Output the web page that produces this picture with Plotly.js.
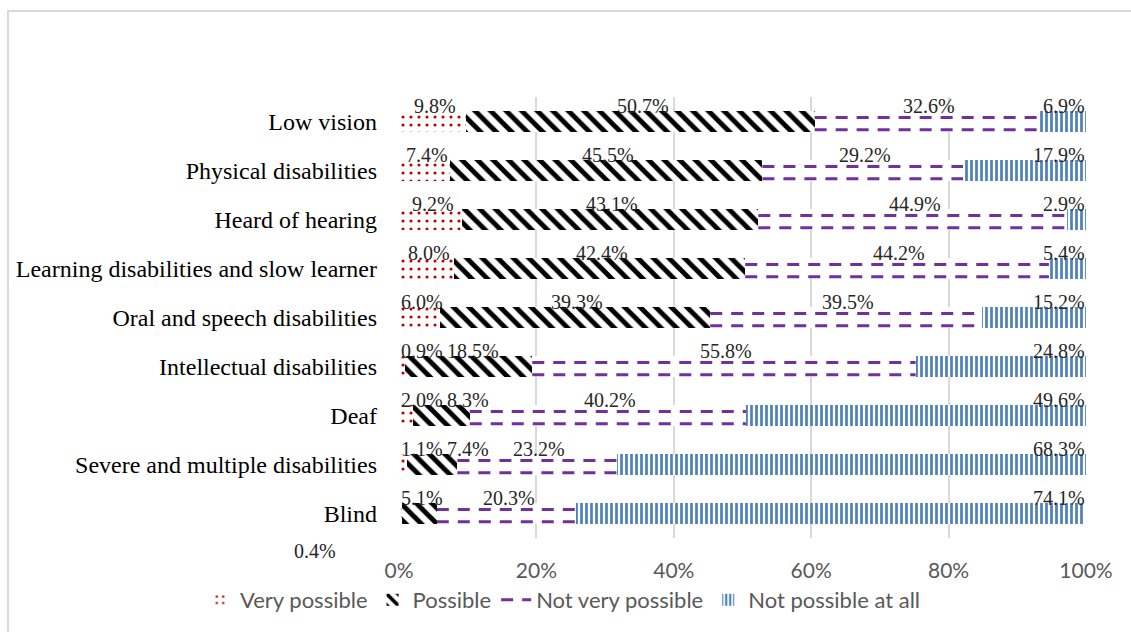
<!DOCTYPE html>
<html>
<head>
<meta charset="utf-8">
<script src="https://cdn.plot.ly/plotly-3.0.1.min.js"></script>
<style>
  html, body { margin: 0; padding: 0; background: #fff; }
  #wrap { position: relative; width: 1131px; height: 632px; overflow: hidden; }
  #chart { width: 1131px; height: 632px; position: relative; }
  #frame { position: absolute; left: 7px; top: 10px; width: 1300px; height: 800px;
           border-left: 2px solid #d9d9d9; border-top: 2px solid #d9d9d9; pointer-events: none; }
</style>
</head>
<body>
<div id="wrap">
  <div id="chart"></div>
  <div id="frame"></div>
</div>
<script>
// Categories from bottom to top
const categories = [
  "Blind",
  "Severe and multiple disabilities",
  "Deaf",
  "Intellectual disabilities",
  "Oral and speech disabilities",
  "Learning disabilities and slow learner",
  "Heard of hearing",
  "Physical disabilities",
  "Low vision"
];
const seriesNames = ["Very possible", "Possible", "Not very possible", "Not possible at all"];
const veryPossible    = [0.4, 1.1, 2.0, 0.9, 6.0, 8.0, 9.2, 7.4, 9.8];
const possible        = [5.1, 7.4, 8.3, 18.5, 39.3, 42.4, 43.1, 45.5, 50.7];
const notVeryPossible = [20.3, 23.2, 40.2, 55.8, 39.5, 44.2, 44.9, 29.2, 32.6];
const notPossible     = [74.1, 68.3, 49.6, 24.8, 15.2, 5.4, 2.9, 17.9, 6.9];
const xTickVals = [0, 20, 40, 60, 80, 100];
const xTickText = ["0%", "20%", "40%", "60%", "80%", "100%"];

const seriesValues = [veryPossible, possible, notVeryPossible, notPossible];

const W = 1131, H = 632;
const M = {l: 399, r: 45, t: 97, b: 94, autoexpand: false};
const plotW = W - M.l - M.r;
const plotH = H - M.t - M.b;
const pxPerUnit = plotW / 100;
const LABEL_SIZE = 20;
const PURPLE = "#7030a0";

const patterns = [
  {shape: ".",  fgcolor: "#c00000", bgcolor: "#ffffff", size: 8,  solidity: 0.12},
  {shape: "\\", fgcolor: "#000000", bgcolor: "#ffffff", size: 11, solidity: 0.45},
  {shape: "",   fgcolor: PURPLE,    bgcolor: "#ffffff", size: 11, solidity: 0.25},
  {shape: "|",  fgcolor: "#4f81bd", bgcolor: "#ffffff", size: 5,  solidity: 0.55}
];

const traces = seriesValues.map((vals, i) => ({
  type: "bar",
  orientation: "h",
  name: seriesNames[i],
  y: categories,
  x: vals,
  width: 0.41,
  showlegend: i !== 2,
  legendrank: i + 1,
  marker: {color: "#ffffff", pattern: patterns[i], line: {width: 0}},
  hoverinfo: "name+x"
}));

// dashed fill for "Not very possible": two dashed rows inside each segment
const dashX = [], dashY = [];
categories.forEach((cat, ci) => {
  const start = veryPossible[ci] + possible[ci];
  const end = start + notVeryPossible[ci];
  [0.08, -0.17].forEach(off => {
    dashX.push(start, end, null);
    dashY.push(ci + off, ci + off, null);
  });
});
traces.push({
  type: "scatter", mode: "lines",
  name: seriesNames[2],
  x: dashX, y: dashY, yaxis: "y2",
  connectgaps: false,
  legendrank: 3,
  line: {color: PURPLE, width: 3, dash: "12px,9px"},
  hoverinfo: "skip"
});

// Label width estimate for Liberation Serif (Times metrics)
function textWidth(s) {
  let w = 0;
  for (const ch of s) w += (ch === "." ? 0.25 : ch === "%" ? 0.833 : 0.5);
  return w * LABEL_SIZE;
}

// Data labels above each segment, kept from overlapping
const annotations = [];
const labelFont = {family: "Liberation Serif, Times New Roman, serif", size: LABEL_SIZE, color: "#262626"};
categories.forEach((cat, ci) => {
  let cum = 0;
  let prevRight = -Infinity;
  seriesValues.forEach((vals, si) => {
    const v = vals[ci];
    const mid = cum + v / 2;
    cum += v;
    const text = v.toFixed(1) + "%";
    const w = textWidth(text);
    if (ci === 0 && si === 0) {
      // tiny label of the "Blind / Very possible" segment sits below-left of the plot
      annotations.push({x: mid, y: cat, xref: "x", yref: "y", text: text, showarrow: false,
        xanchor: "center", yanchor: "bottom", xshift: -85, yshift: -50, font: labelFont});
      return;
    }
    let left;
    if (si === seriesValues.length - 1) {
      left = plotW - 3 - w;                  // last series: right-aligned at 100%
    } else {
      left = mid * pxPerUnit - w / 2;
      left = Math.max(left, 0, prevRight + 4);
    }
    prevRight = left + w;
    annotations.push({
      x: left / pxPerUnit, y: cat, xref: "x", yref: "y",
      text: text, showarrow: false,
      xanchor: "left", yanchor: "bottom",
      yshift: 3,
      font: labelFont
    });
  });
});

const layout = {
  width: W, height: H,
  margin: M,
  paper_bgcolor: "#ffffff", plot_bgcolor: "#ffffff",
  barmode: "stack",
  showlegend: true,
  legend: {
    orientation: "h",
    xref: "paper", x: (200 - M.l) / plotW, xanchor: "left",
    yref: "paper", y: -(600 - (H - M.b)) / plotH, yanchor: "middle",
    font: {family: "Lato, Open Sans, sans-serif", size: 22, color: "#595959"},
    itemwidth: 30, traceorder: "normal", tracegroupgap: 0,
    bgcolor: "rgba(0,0,0,0)"
  },
  xaxis: {
    range: [0, 100],
    tickvals: xTickVals, ticktext: xTickText,
    showgrid: true, gridcolor: "#d9d9d9", gridwidth: 2,
    zeroline: false, showline: false,
    ticks: "", ticklabelstandoff: 18,
    tickfont: {family: "Lato, Open Sans, sans-serif", size: 21, color: "#595959"},
    fixedrange: true
  },
  yaxis: {
    type: "category",
    categoryorder: "array", categoryarray: categories,
    range: [-0.5, 8.5],
    showgrid: false, zeroline: false, showline: false,
    ticks: "", ticklabelstandoff: 21,
    tickfont: {family: "Liberation Serif, Times New Roman, serif", size: 24, color: "#000000"},
    fixedrange: true
  },
  yaxis2: {
    overlaying: "y", range: [-0.5, 8.5], visible: false, fixedrange: true
  },
  annotations: annotations
};

Plotly.newPlot("chart", traces, layout, {displayModeBar: false, staticPlot: true});
</script>
</body>
</html>
